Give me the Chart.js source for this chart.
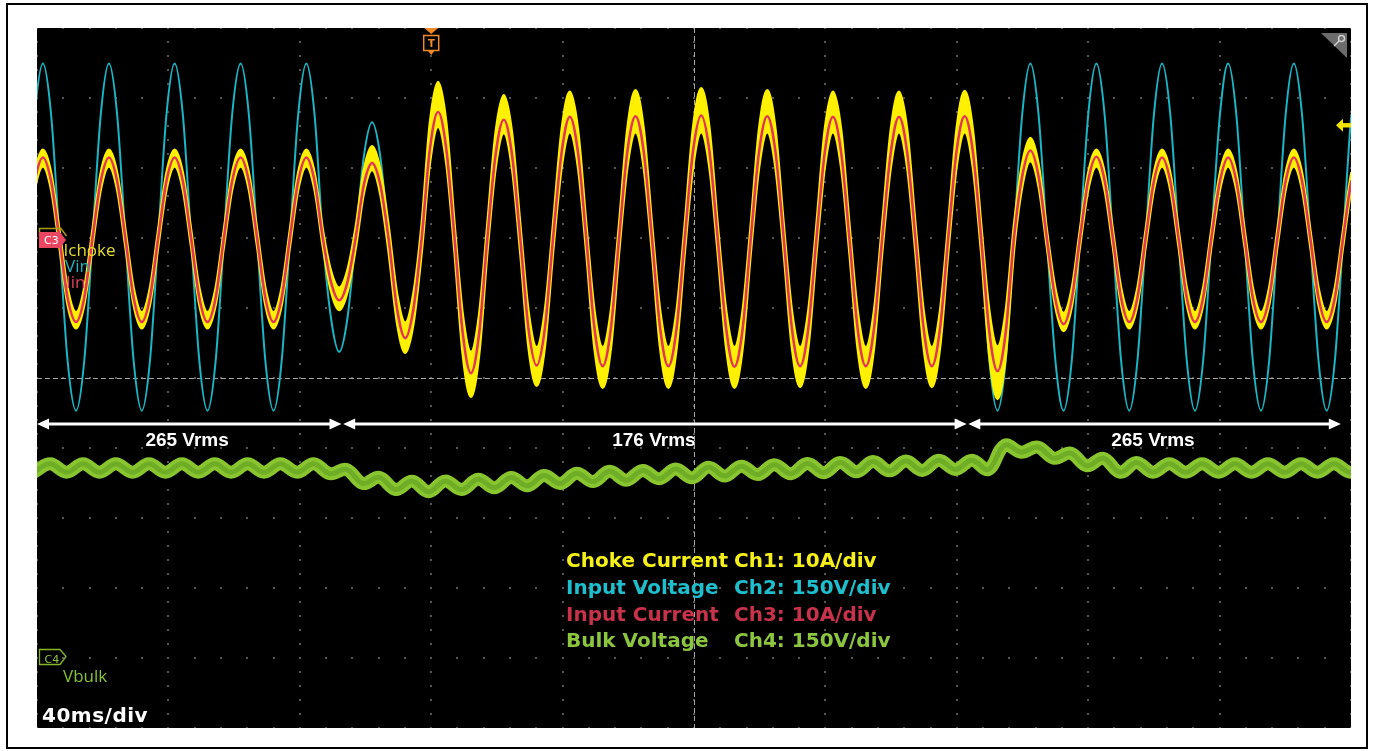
<!DOCTYPE html>
<html><head><meta charset="utf-8">
<script src="https://cdn.jsdelivr.net/npm/chart.js@4.4.1/dist/chart.umd.min.js"></script>
<style>
html,body{margin:0;padding:0;background:#fff;width:1373px;height:751px;overflow:hidden;position:relative;}
#frame{position:absolute;left:6px;top:3px;width:1358px;height:742px;border:2px solid #000;}
#box{position:absolute;left:37px;top:28px;width:1314px;height:700px;background:#000;}
.t{position:absolute;white-space:pre;line-height:1;}
.ch{font-family:"Open Sans",sans-serif;font-size:17px;}
.lg{font-family:"DejaVu Sans",sans-serif;font-weight:bold;font-size:20px;}
.sec{font-family:"Liberation Sans",Arial,sans-serif;font-weight:bold;font-size:19px;color:#fff;transform:translateX(-50%);}
.mk{font-family:"DejaVu Sans",sans-serif;font-size:11px;}
</style></head><body>
<div id="frame"></div>
<div id="box"><canvas id="c" width="1314" height="700"></canvas></div>

<div class="t ch" style="left:63.5px;top:241px;color:#e3dc2c">Ichoke</div>
<div class="t ch" style="left:65px;top:256.6px;color:#1fb4c4">Vin</div>
<div class="t ch" style="left:66px;top:272.6px;color:#e0405e">Iin</div>
<div class="t ch" style="left:63px;top:667px;color:#86c232">Vbulk</div>
<div class="t mk" style="left:44px;top:234.7px;color:#fff">C3</div>
<div class="t mk" style="left:44.5px;top:654px;color:#8cc63f">C4</div>
<div class="t" style="left:431.5px;top:38.5px;transform:translateX(-50%);font-family:'DejaVu Sans',sans-serif;font-weight:bold;font-size:10px;color:#f08a24">T</div>
<div class="t" style="left:42px;top:705.4px;font-family:'DejaVu Sans',sans-serif;font-weight:bold;font-size:20px;letter-spacing:0.5px;color:#fff">40ms/div</div>

<div class="t lg" style="left:566px;top:550px;color:#f5f019">Choke Current</div>
<div class="t lg" style="left:734px;top:550px;color:#f5f019">Ch1: 10A/div</div>
<div class="t lg" style="left:566px;top:576.6px;color:#1ebecd">Input Voltage</div>
<div class="t lg" style="left:734px;top:576.6px;color:#1ebecd">Ch2: 150V/div</div>
<div class="t lg" style="left:566px;top:603.6px;color:#c8324b">Input Current</div>
<div class="t lg" style="left:734px;top:603.6px;color:#c8324b">Ch3: 10A/div</div>
<div class="t lg" style="left:566px;top:630px;color:#8cc63f">Bulk Voltage</div>
<div class="t lg" style="left:734px;top:630px;color:#8cc63f">Ch4: 150V/div</div>
<div id="overlay"></div>

<script>
// sample instants (ms), every 1/8 of a line cycle
const timesMs = [
 -3.2, -0.7,
 1.8, 4.3, 6.8, 9.3, 11.9, 14.4, 16.9, 19.4,
 21.9, 24.4, 26.9, 29.4, 31.9, 34.4, 36.9, 39.4,
 41.9, 44.4, 46.9, 49.4, 51.9, 54.4, 56.9, 59.4,
 62.0, 64.5, 67.0, 69.5, 72.0, 74.5, 77.0, 79.5,
 82.0, 84.5, 87.0, 89.5, 92.0, 94.5, 97.0, 99.5,
 102.0, 104.5, 107.0, 109.6, 112.1, 114.6, 117.1, 119.6,
 122.1, 124.6, 127.1, 129.6, 132.1, 134.6, 137.1, 139.6,
 142.1, 144.6, 147.1, 149.6, 152.1, 154.6, 157.1, 159.7,
 162.2, 164.7, 167.2, 169.7, 172.2, 174.7, 177.2, 179.7,
 182.2, 184.7, 187.2, 189.7, 192.2, 194.7, 197.2, 199.7,
 202.2, 204.7, 207.2, 209.8, 212.3, 214.8, 217.3, 219.8,
 222.3, 224.8, 227.3, 229.8, 232.3, 234.8, 237.3, 239.8,
 242.3, 244.8, 247.3, 249.8, 252.3, 254.8, 257.3, 259.9,
 262.4, 264.9, 267.4, 269.9, 272.4, 274.9, 277.4, 279.9,
 282.4, 284.9, 287.4, 289.9, 292.4, 294.9, 297.4, 299.9,
 302.4, 304.9, 307.4, 310.0, 312.5, 315.0, 317.5, 320.0,
 322.5, 325.0, 327.5, 330.0, 332.5, 335.0, 337.5, 340.0,
 342.5, 345.0, 347.5, 350.0, 352.5, 355.0, 357.5, 360.1,
 362.6, 365.1, 367.6, 370.1, 372.6, 375.1, 377.6, 380.1,
 382.6, 385.1, 387.6, 390.1, 392.6, 395.1, 397.6, 400.1,
 402.6];
// Ch2 input voltage (V)
const vinVolts = [
 0, 264,
 374, 264, 0, -262, -370, -262, 0, 264,
 374, 264, 0, -262, -370, -262, 0, 264,
 374, 264, 0, -262, -370, -262, 0, 264,
 374, 264, 0, -262, -370, -262, 0, 264,
 374, 264, 0, -172, -244, -172, 0, 175,
 248, 175, 0, -172, -244, -172, 0, 175,
 248, 175, 0, -172, -244, -172, 0, 175,
 248, 175, 0, -172, -244, -172, 0, 175,
 248, 175, 0, -172, -244, -172, 0, 175,
 248, 175, 0, -172, -244, -172, 0, 175,
 248, 175, 0, -172, -244, -172, 0, 175,
 248, 175, 0, -172, -244, -172, 0, 175,
 248, 175, 0, -172, -244, -172, 0, 175,
 248, 175, 0, -172, -244, -172, 0, 175,
 248, 175, 0, -262, -370, -262, 0, 264,
 374, 264, 0, -262, -370, -262, 0, 264,
 374, 264, 0, -262, -370, -262, 0, 264,
 374, 264, 0, -262, -370, -262, 0, 264,
 374, 264, 0, -262, -370, -262, 0, 264,
 374, 264, 0, -262, -370, -262, 0, 264,
 374];
// Ch3 input current (A)
const iinAmps = [
 0, 8.1,
 11.5, 8.1, 0, -8.5, -12.0, -8.5, 0, 8.1,
 11.5, 8.1, 0, -8.5, -12.0, -8.5, 0, 8.1,
 11.5, 8.1, 0, -8.5, -12.0, -8.5, 0, 8.1,
 11.5, 8.1, 0, -8.5, -12.0, -8.5, 0, 8.1,
 11.5, 8.1, 0, -6.3, -8.9, -6.3, 0, 7.6,
 10.7, 7.6, 0, -10.1, -14.3, -10.1, 0, 12.7,
 18.0, 12.7, 0, -13.6, -19.3, -13.6, 0, 11.9,
 16.9, 11.9, 0, -12.9, -18.2, -12.9, 0, 12.2,
 17.3, 12.2, 0, -12.9, -18.3, -12.9, 0, 12.3,
 17.4, 12.3, 0, -12.9, -18.3, -12.9, 0, 12.4,
 17.5, 12.4, 0, -13.0, -18.4, -13.0, 0, 12.3,
 17.4, 12.3, 0, -12.9, -18.3, -12.9, 0, 12.2,
 17.3, 12.2, 0, -12.9, -18.3, -12.9, 0, 12.2,
 17.3, 12.2, 0, -12.9, -18.3, -12.9, 0, 12.3,
 17.4, 12.3, 0, -13.4, -19.0, -13.4, 0, 8.8,
 12.5, 8.8, 0, -8.7, -12.3, -8.7, 0, 8.2,
 11.6, 8.2, 0, -8.5, -12.0, -8.5, 0, 8.1,
 11.5, 8.1, 0, -8.5, -12.0, -8.5, 0, 8.1,
 11.5, 8.1, 0, -8.5, -12.0, -8.5, 0, 8.1,
 11.5, 8.1, 0, -8.5, -12.0, -8.5, 0, 8.1,
 11.5];
// Ch1 choke current, upper edge of the ripple band (A)
const ichokeHiAmps = [
 1.2, 9.3,
 12.6, 9.3, 1.2, -7.1, -10.6, -7.1, 1.2, 9.3,
 12.6, 9.3, 1.2, -7.1, -10.6, -7.1, 1.2, 9.3,
 12.6, 9.3, 1.2, -7.1, -10.6, -7.1, 1.2, 9.3,
 12.6, 9.3, 1.2, -7.1, -10.6, -7.1, 1.2, 9.3,
 12.6, 9.3, 1.2, -4.7, -7.1, -4.6, 1.5, 9.7,
 13.1, 9.8, 1.8, -8.0, -12.1, -7.9, 2.0, 16.4,
 22.3, 16.4, 2.0, -10.9, -16.3, -10.9, 2.0, 15.0,
 20.4, 15.0, 2.0, -10.4, -15.6, -10.4, 2.0, 15.4,
 20.9, 15.4, 2.0, -10.4, -15.6, -10.4, 2.0, 15.5,
 21.1, 15.5, 2.0, -10.4, -15.6, -10.4, 2.0, 15.7,
 21.4, 15.7, 2.0, -10.4, -15.6, -10.4, 2.0, 15.5,
 21.1, 15.5, 2.0, -10.4, -15.6, -10.4, 2.0, 15.4,
 20.9, 15.4, 2.0, -10.4, -15.6, -10.4, 2.0, 15.4,
 20.9, 15.4, 2.0, -10.4, -15.6, -10.4, 2.0, 15.4,
 21.0, 15.4, 2.0, -10.4, -15.5, -10.4, 1.8, 10.6,
 14.3, 10.5, 1.2, -7.2, -10.7, -7.2, 1.2, 9.3,
 12.6, 9.3, 1.2, -7.1, -10.6, -7.1, 1.2, 9.3,
 12.6, 9.3, 1.2, -7.1, -10.6, -7.1, 1.2, 9.3,
 12.6, 9.3, 1.2, -7.1, -10.6, -7.1, 1.2, 9.3,
 12.6, 9.3, 1.2, -7.1, -10.6, -7.1, 1.2, 9.3,
 12.6];
// Ch1 choke current, lower edge of the ripple band (A)
const ichokeLoAmps = [
 -1.2, 6.9,
 10.2, 6.9, -1.2, -9.5, -12.9, -9.5, -1.2, 6.9,
 10.2, 6.9, -1.2, -9.5, -12.9, -9.5, -1.2, 6.9,
 10.2, 6.9, -1.2, -9.5, -12.9, -9.5, -1.2, 6.9,
 10.2, 6.9, -1.2, -9.5, -12.9, -9.5, -1.2, 6.9,
 10.2, 6.9, -1.2, -7.6, -10.3, -7.7, -1.5, 6.4,
 9.7, 6.3, -1.8, -12.1, -16.4, -12.2, -2.0, 10.7,
 15.9, 10.7, -2.0, -16.6, -22.7, -16.6, -2.0, 10.0,
 15.0, 10.0, -2.0, -15.5, -21.1, -15.5, -2.0, 10.1,
 15.1, 10.1, -2.0, -15.7, -21.4, -15.7, -2.0, 10.1,
 15.1, 10.1, -2.0, -15.7, -21.4, -15.7, -2.0, 10.1,
 15.1, 10.1, -2.0, -15.7, -21.4, -15.7, -2.0, 10.1,
 15.1, 10.1, -2.0, -15.6, -21.3, -15.6, -2.0, 10.1,
 15.1, 10.1, -2.0, -15.7, -21.4, -15.7, -2.0, 10.1,
 15.1, 10.1, -2.0, -15.6, -21.3, -15.6, -2.0, 10.1,
 15.1, 10.1, -2.0, -16.8, -23.0, -16.8, -1.8, 7.3,
 11.0, 7.4, -1.2, -9.8, -13.3, -9.8, -1.2, 6.9,
 10.2, 6.9, -1.2, -9.5, -12.9, -9.5, -1.2, 6.9,
 10.2, 6.9, -1.2, -9.5, -12.9, -9.5, -1.2, 6.9,
 10.2, 6.9, -1.2, -9.5, -12.9, -9.5, -1.2, 6.9,
 10.2, 6.9, -1.2, -9.5, -12.9, -9.5, -1.2, 6.9,
 10.2];
// Ch4 bulk voltage: instants of ripple crests/valleys (ms) and values (V)
const bulkTimesMs = [
 -1.0, 4.0, 9.0, 14.0, 19.0, 24.0, 29.1, 34.1, 39.1, 44.1,
 49.1, 54.1, 59.1, 64.1, 69.1, 74.1, 79.2, 84.2, 89.2, 94.2,
 99.2, 104.2, 109.2, 114.2, 119.2, 124.2, 129.3, 134.3, 139.3, 144.3,
 149.3, 154.3, 159.3, 164.3, 169.3, 174.3, 179.4, 184.4, 189.4, 194.4,
 199.4, 204.4, 209.4, 214.4, 219.4, 224.4, 229.5, 234.5, 239.5, 244.5,
 249.5, 254.5, 259.5, 264.5, 269.5, 274.5, 279.6, 284.6, 289.6, 294.6,
 299.6, 304.6, 309.6, 314.6, 319.6, 324.6, 329.7, 334.7, 339.7, 344.7,
 349.7, 354.7, 359.7, 364.7, 369.7, 374.7, 379.8, 384.8, 389.8, 394.8,
 399.8, 404.8];
const bulkVolts = [
 398, 416, 398, 416, 398, 416, 398, 416, 398, 416,
 398, 416, 398, 416, 398, 416, 398, 416, 395, 404,
 374, 387, 361, 379, 356, 379, 361, 383, 365, 387,
 369, 391, 374, 396, 378, 400, 381, 402, 384, 405,
 386, 409, 390, 411, 393, 414, 395, 417, 397, 419,
 399, 421, 401, 422, 402, 424, 404, 424, 404, 456,
 441, 452, 428, 439, 412, 428, 398, 419, 398, 416,
 398, 416, 398, 416, 398, 416, 398, 416, 398, 416,
 398, 416];

// line-voltage sections shown with arrows
const sectionLabels = ['265 Vrms', '176 Vrms', '265 Vrms'];
const sectionStartMs = [0, 93.2, 283.5];
const sectionEndMs = [92.7, 283.0, 396.9];
const sectionLabelMs = [45.7, 187.8, 339.7];
const triggerMs = 120;
const triggerLevelAmps = 16.1;

const pts = (xs, ys) => xs.map((x, i) => ({x: x, y: ys[i]}));

const scopePlugin = {
  id: 'scope',
  beforeDraw(chart) {
    const {ctx, width, height} = chart;
    ctx.save(); ctx.fillStyle = '#000'; ctx.fillRect(0, 0, width, height); ctx.restore();
  },
  beforeDatasetsDraw(chart) {
    const {ctx, chartArea: a} = chart;
    const xs = chart.scales.x;
    const H = a.bottom - a.top;
    ctx.save();
    ctx.fillStyle = '#555';
    for (let i = 0; i <= 10; i++) {
      const x = Math.round(xs.getPixelForValue(i * 40));
      for (let j = 0; j <= 50; j++) {
        const y = Math.round(a.top + j * H / 50);
        ctx.fillRect(x - 1, y - 1, 2, 2);
      }
    }
    for (let j = 0; j <= 10; j++) {
      const y = Math.round(a.top + j * H / 10);
      for (let i = 0; i <= 50; i++) {
        const x = Math.round(xs.getPixelForValue(i * 8));
        ctx.fillRect(x - 1, y - 1, 2, 2);
      }
    }
    ctx.strokeStyle = '#a5a5a5'; ctx.lineWidth = 1; ctx.setLineDash([5, 3]);
    const cx = Math.round(xs.getPixelForValue(200)) + 0.5;
    ctx.beginPath(); ctx.moveTo(cx, a.top); ctx.lineTo(cx, a.bottom); ctx.stroke();
    const cy = Math.round(a.top + H / 2) + 0.5;
    ctx.beginPath(); ctx.moveTo(a.left, cy); ctx.lineTo(a.right, cy); ctx.stroke();
    ctx.restore();
  },
  afterDraw(chart) {
    const {ctx, chartArea: a} = chart;
    const xs = chart.scales.x, yI = chart.scales.yI, yB = chart.scales.yB;
    ctx.save();
    const ay = 396;
    ctx.strokeStyle = '#fff'; ctx.fillStyle = '#fff'; ctx.lineWidth = 3;
    for (let s = 0; s < sectionLabels.length; s++) {
      const x0 = xs.getPixelForValue(sectionStartMs[s]);
      const x1 = xs.getPixelForValue(sectionEndMs[s]);
      ctx.beginPath(); ctx.moveTo(x0 + 8, ay); ctx.lineTo(x1 - 8, ay); ctx.stroke();
      ctx.beginPath(); ctx.moveTo(x0, ay); ctx.lineTo(x0 + 12, ay - 5.5); ctx.lineTo(x0 + 12, ay + 5.5); ctx.closePath(); ctx.fill();
      ctx.beginPath(); ctx.moveTo(x1, ay); ctx.lineTo(x1 - 12, ay - 5.5); ctx.lineTo(x1 - 12, ay + 5.5); ctx.closePath(); ctx.fill();
    }
    const g = yI.getPixelForValue(0);
    ctx.strokeStyle = '#a99b12'; ctx.lineWidth = 1.5;
    ctx.beginPath(); ctx.moveTo(2.5, g - 2); ctx.lineTo(2.5, g - 9.5); ctx.lineTo(24, g - 9.5); ctx.lineTo(29.5, g - 2); ctx.stroke();
    ctx.fillStyle = '#ea4662';
    ctx.beginPath(); ctx.moveTo(2, g - 6); ctx.lineTo(23, g - 6); ctx.lineTo(29, g + 2); ctx.lineTo(23, g + 10); ctx.lineTo(2, g + 10); ctx.closePath(); ctx.fill();
    const g4 = yB.getPixelForValue(0);
    ctx.strokeStyle = '#86b52a'; ctx.lineWidth = 1.3;
    ctx.beginPath(); ctx.moveTo(2.5, g4 - 8.5); ctx.lineTo(23, g4 - 8.5); ctx.lineTo(29, g4 - 1.5); ctx.lineTo(23, g4 + 6.5); ctx.lineTo(2.5, g4 + 6.5); ctx.closePath(); ctx.stroke();
    const tx = xs.getPixelForValue(triggerMs);
    ctx.fillStyle = '#f08a24'; ctx.strokeStyle = '#f08a24'; ctx.lineWidth = 1.5;
    ctx.beginPath(); ctx.moveTo(tx - 7, 0); ctx.lineTo(tx + 7, 0); ctx.lineTo(tx, 6); ctx.closePath(); ctx.fill();
    ctx.strokeRect(tx - 7.5, 7.5, 15, 15);
    ctx.beginPath(); ctx.moveTo(tx - 3.5, 22.5); ctx.lineTo(tx + 3.5, 22.5); ctx.lineTo(tx, 27); ctx.closePath(); ctx.fill();
    const ty = yI.getPixelForValue(triggerLevelAmps);
    ctx.fillStyle = '#f2e600';
    ctx.beginPath(); ctx.moveTo(a.right - 15, ty); ctx.lineTo(a.right - 8, ty - 6.5); ctx.lineTo(a.right - 8, ty + 6.5); ctx.closePath(); ctx.fill();
    ctx.fillRect(a.right - 8.5, ty - 2.2, 8.5, 4.4);
    ctx.fillStyle = '#6c6c6c';
    ctx.beginPath(); ctx.moveTo(a.right - 30, 5); ctx.lineTo(a.right - 4, 5); ctx.lineTo(a.right - 4, 30); ctx.closePath(); ctx.fill();
    ctx.strokeStyle = '#cfcfcf'; ctx.lineWidth = 1.5;
    ctx.beginPath(); ctx.arc(a.right - 9.5, 10.5, 3, 0, Math.PI * 2); ctx.stroke();
    ctx.beginPath(); ctx.moveTo(a.right - 11.5, 12.5); ctx.lineTo(a.right - 17, 18); ctx.stroke();
    ctx.restore();
  }
};

const chart = new Chart(document.getElementById('c').getContext('2d'), {
  type: 'line',
  data: {
    datasets: [
      {label: 'Iin', data: pts(timesMs, iinAmps), yAxisID: 'yI', borderColor: '#e2335a', borderWidth: 2.6, order: 1, fill: false, cubicInterpolationMode: 'monotone'},
      {label: 'Ichoke hi', data: pts(timesMs, ichokeHiAmps), yAxisID: 'yI', borderColor: '#fff000', borderWidth: 2.5, order: 2, fill: false, cubicInterpolationMode: 'monotone'},
      {label: 'Ichoke lo', data: pts(timesMs, ichokeLoAmps), yAxisID: 'yI', borderColor: '#fff000', backgroundColor: '#fff000', borderWidth: 2.5, order: 3, fill: '-1', cubicInterpolationMode: 'monotone'},
      {label: 'Vin', data: pts(timesMs, vinVolts), yAxisID: 'yV', borderColor: '#1bb5c5', borderWidth: 2, order: 4, fill: false, cubicInterpolationMode: 'monotone'},
      {label: 'Vbulk core', data: pts(bulkTimesMs, bulkVolts), yAxisID: 'yB', borderColor: '#70ad27', borderWidth: 5, order: 5, fill: false, tension: 0.38},
      {label: 'Vbulk', data: pts(bulkTimesMs, bulkVolts), yAxisID: 'yB', borderColor: '#88c52f', borderWidth: 13, order: 6, fill: false, tension: 0.38}
    ]
  },
  options: {
    responsive: false, maintainAspectRatio: false, animation: false, events: [],
    layout: {padding: 0},
    parsing: false, normalized: true,
    elements: {point: {radius: 0}, line: {tension: 0.4, capBezierPoints: false, borderCapStyle: 'round', borderJoinStyle: 'round'}},
    plugins: {legend: {display: false}, tooltip: {enabled: false}, title: {display: false}},
    scales: {
      x: {type: 'linear', min: 0, max: 400, display: false},
      yI: {type: 'linear', axis: 'y', min: -70, max: 30, display: false},
      yV: {type: 'linear', axis: 'y', min: -1050, max: 450, display: false},
      yB: {type: 'linear', axis: 'y', min: -150, max: 1350, display: false}
    }
  },
  plugins: [scopePlugin]
});

const ov = document.getElementById('overlay');
sectionLabels.forEach((txt, i) => {
  const d = document.createElement('div');
  d.className = 't sec';
  d.textContent = txt;
  d.style.left = (37 + chart.scales.x.getPixelForValue(sectionLabelMs[i])) + 'px';
  d.style.top = '429.5px';
  ov.appendChild(d);
});
</script>
</body></html>
